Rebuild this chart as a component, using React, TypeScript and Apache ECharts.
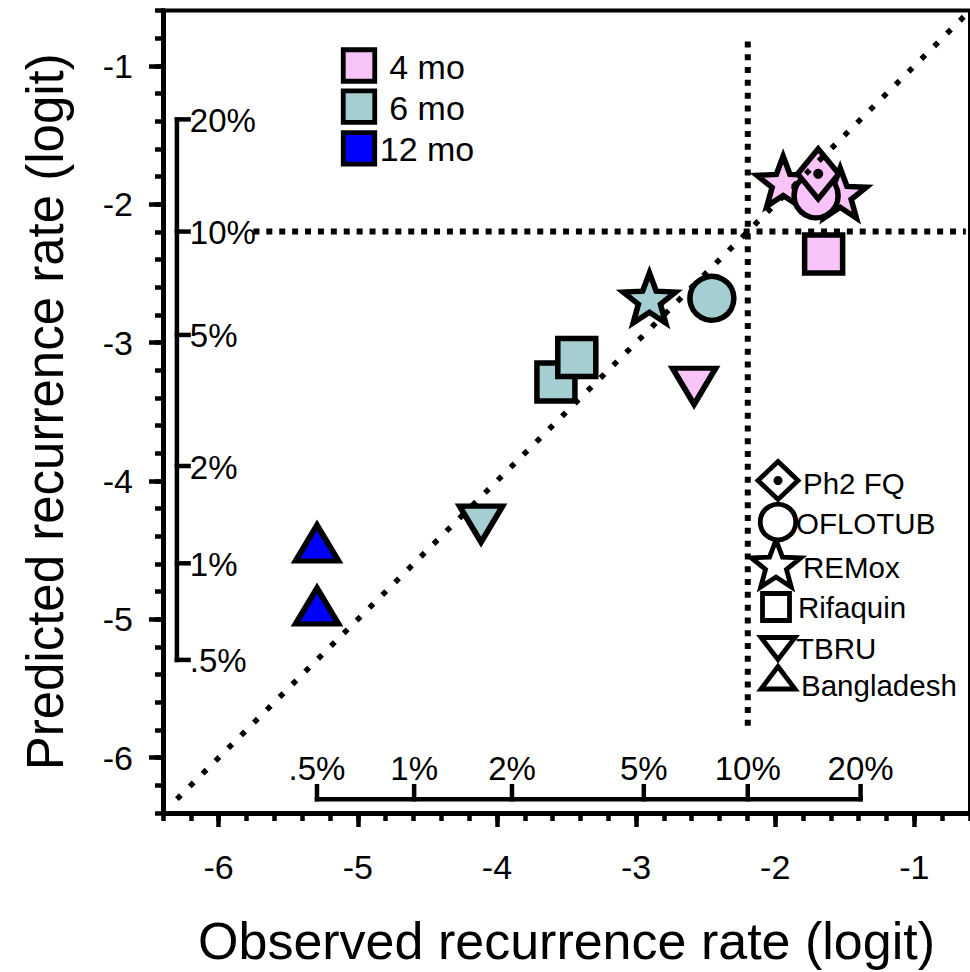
import React, { useEffect, useRef } from 'react';
import * as echarts from 'echarts';

const FONT = '"Liberation Sans", Arial, Helvetica, sans-serif';

const durations = ['4 mo', '6 mo', '12 mo'];
const durationColors = ['#f9c4f9', '#a4ced1', '#0000ff'];
const studies = ['Ph2 FQ', 'OFLOTUB', 'REMox', 'Rifaquin', 'TBRU', 'Bangladesh'];

// one entry per plotted point, in drawing order
const pointDuration = ['4 mo', '4 mo', '4 mo', '4 mo', '4 mo', '4 mo', '6 mo', '6 mo', '6 mo', '6 mo', '6 mo', '12 mo', '12 mo'];
const pointStudy = ['REMox', 'REMox', 'OFLOTUB', 'Ph2 FQ', 'Rifaquin', 'TBRU', 'REMox', 'OFLOTUB', 'Rifaquin', 'Rifaquin', 'TBRU', 'Bangladesh', 'Bangladesh'];
const observedLogit = [-1.943, -1.533, -1.706, -1.691, -1.652, -2.583, -2.904, -2.455, -3.576, -3.426, -4.114, -5.293, -5.293];
const predictedLogit = [-1.852, -1.938, -1.938, -1.780, -2.360, -3.316, -2.696, -2.680, -3.284, -3.107, -4.312, -4.449, -4.904];

const majorTicks = [-6, -5, -4, -3, -2, -1];
const percentTicks = [0.005, 0.01, 0.02, 0.05, 0.1, 0.2];
const percentLabels = ['.5%', '1%', '2%', '5%', '10%', '20%'];

const logit = (p: number) => Math.log(p / (1 - p));

function starPoints(cx: number, cy: number, R: number, r: number) {
  const pts: number[][] = [];
  for (let k = 0; k < 10; k++) {
    const a = -Math.PI / 2 + (k * Math.PI) / 5;
    const rad = k % 2 === 0 ? R : r;
    pts.push([cx + rad * Math.cos(a), cy + rad * Math.sin(a)]);
  }
  return pts;
}

const STAR_PATH =
  'path://' +
  starPoints(50, 50, 50, 21)
    .map((p, i) => (i === 0 ? 'M' : 'L') + p[0].toFixed(2) + ' ' + p[1].toFixed(2))
    .join(' ') +
  ' Z';

const symbolFor: Record<string, any> = {
  'Ph2 FQ': { symbol: 'diamond', symbolSize: [41, 50] },
  OFLOTUB: { symbol: 'circle', symbolSize: 44 },
  REMox: { symbol: STAR_PATH, symbolSize: [52.5, 50], symbolOffset: [0, -2.6] },
  Rifaquin: { symbol: 'rect', symbolSize: 38 },
  TBRU: { symbol: 'triangle', symbolSize: [43, 36], symbolRotate: 180 },
  Bangladesh: { symbol: 'triangle', symbolSize: [43, 36] },
};

export default function App() {
  const ref = useRef<HTMLDivElement>(null);

  useEffect(() => {
    if (!ref.current) return;
    const chart = echarts.init(ref.current, null, { renderer: 'svg' });

    const black = '#000';
    const tickStyle = { color: black, width: 4.5 };

    const scatterSeries = observedLogit.map((x, i) => {
      const s = symbolFor[pointStudy[i]];
      return {
        type: 'scatter',
        name: pointStudy[i] + ' ' + pointDuration[i],
        data: [[x, predictedLogit[i]]],
        ...s,
        itemStyle: {
          color: durationColors[durations.indexOf(pointDuration[i])],
          borderColor: black,
          borderWidth: 5.5,
          opacity: 1,
        },
        emphasis: { disabled: true },
        silent: true,
        z: 3 + i,
      };
    });

    const dotSeries = {
      type: 'scatter',
      data: observedLogit
        .map((x, i) => [x, predictedLogit[i], pointStudy[i] === 'Ph2 FQ' ? 1 : 0])
        .filter((d) => d[2] === 1)
        .map((d) => [d[0], d[1]]),
      symbol: 'circle',
      symbolSize: 10,
      itemStyle: { color: black, opacity: 1 },
      silent: true,
      z: 25,
    };

    const dotted = (data: number[][], dash: number[], width = 6) => ({
      type: 'line',
      data,
      symbol: 'none',
      lineStyle: { color: black, width, type: dash, cap: 'butt' },
      silent: true,
      z: 30,
    });

    const L10 = logit(0.1);
    const pctMin = logit(0.005);
    const pctMax = logit(0.2);

    const bottomPct = {
      type: 'custom',
      coordinateSystem: 'cartesian2d',
      data: percentTicks.map((p, i) => [logit(p), i]),
      silent: true,
      z: 32,
      renderItem: (params: any, api: any) => {
        const v = api.value(0);
        const i = api.value(1);
        const p0 = api.coord([v, -6.3]);
        const p1 = api.coord([v, -6.19]);
        return {
          type: 'group',
          children: [
            { type: 'line', shape: { x1: p0[0], y1: p0[1] + 2.25, x2: p1[0], y2: p1[1] }, style: { stroke: black, lineWidth: 4.5 } },
            {
              type: 'text',
              x: p1[0],
              y: p1[1] + 1,
              style: { text: percentLabels[i], fill: black, fontSize: 33, fontFamily: FONT, align: 'center', verticalAlign: 'bottom' },
            },
          ],
        };
      },
    };

    const leftPct = {
      type: 'custom',
      coordinateSystem: 'cartesian2d',
      data: percentTicks.map((p, i) => [logit(p), i]),
      silent: true,
      z: 32,
      renderItem: (params: any, api: any) => {
        const v = api.value(0);
        const i = api.value(1);
        const p0 = api.coord([-6.3, v]);
        const p1 = api.coord([-6.2, v]);
        return {
          type: 'group',
          children: [
            { type: 'line', shape: { x1: p0[0] - 2.25, y1: p0[1], x2: p1[0], y2: p1[1] }, style: { stroke: black, lineWidth: 4.5 } },
            {
              type: 'text',
              x: p1[0] - 1,
              y: p1[1] + 1,
              style: { text: percentLabels[i], fill: black, fontSize: 33, fontFamily: FONT, align: 'left', verticalAlign: 'middle' },
            },
          ],
        };
      },
    };

    const barLine = (data: number[][]) => ({
      type: 'line',
      data,
      symbol: 'none',
      lineStyle: { color: black, width: 4.5, cap: 'square' },
      silent: true,
      z: 31,
    });

    // legends (graphic)
    const graphics: any[] = [];
    const durY = [65.5, 106.7, 148.3];
    durations.forEach((d, i) => {
      graphics.push({
        type: 'rect',
        shape: { x: 359 - 15.75, y: durY[i] - 15.75, width: 31.5, height: 31.5 },
        style: { fill: durationColors[i], stroke: black, lineWidth: 4.8 },
        z: 50,
      });
      graphics.push({
        type: 'text',
        x: 427,
        y: durY[i] + 1,
        style: { text: d, fill: black, fontSize: 34, fontFamily: FONT, align: 'center', verticalAlign: 'middle' },
        z: 50,
      });
    });

    const legStyle = { fill: '#fff', stroke: black, lineWidth: 4.8 };
    const lx = 778;
    graphics.push({ type: 'polygon', shape: { points: starPoints(776, 566, 26, 11) }, style: legStyle, z: 50 });
    graphics.push({ type: 'polygon', shape: { points: [[lx, 461.5], [lx + 20, 480.5], [lx, 499.5], [lx - 20, 480.5]] }, style: legStyle, z: 51 });
    graphics.push({ type: 'circle', shape: { cx: lx, cy: 480.5, r: 4.5 }, style: { fill: black }, z: 52 });
    graphics.push({ type: 'circle', shape: { cx: lx, cy: 522, r: 17.75 }, style: legStyle, z: 51 });
    graphics.push({ type: 'rect', shape: { x: 776 - 13.5, y: 607 - 13.5, width: 27, height: 27 }, style: legStyle, z: 51 });
    graphics.push({ type: 'polygon', shape: { points: [[761, 637.5], [795, 637.5], [lx, 659.5]] }, style: legStyle, z: 51 });
    graphics.push({ type: 'polygon', shape: { points: [[lx, 666.5], [795, 689], [761, 689]] }, style: legStyle, z: 51 });

    const studyLabelX = [803, 796, 803, 798, 796, 801];
    const studyLabelY = [483, 523, 567, 607, 648, 685];
    studies.forEach((s, i) => {
      graphics.push({
        type: 'text',
        x: studyLabelX[i],
        y: studyLabelY[i],
        style: { text: s, fill: black, fontSize: 29.5, fontFamily: FONT, align: 'left', verticalAlign: 'middle' },
        z: 53,
      });
    });

    const option: any = {
      animation: false,
      backgroundColor: '#fff',
      grid: {
        left: 163,
        top: 10.6,
        width: 807,
        height: 803.8,
        show: true,
        borderColor: black,
        borderWidth: 4,
        backgroundColor: 'transparent',
      },
      xAxis: [
        {
          type: 'value',
          min: -6.4,
          max: -0.6,
          position: 'bottom',
          axisLine: { show: true, onZero: false, lineStyle: { color: black, width: 5 } },
          axisTick: { show: true, customValues: majorTicks, length: 14, lineStyle: tickStyle },
          axisLabel: { show: true, customValues: majorTicks, fontSize: 34, color: black, margin: 37, fontFamily: FONT },
          splitLine: { show: false },
          name: 'Observed recurrence rate (logit)',
          nameLocation: 'middle',
          nameGap: 102,
          nameTextStyle: { fontSize: 52, color: black, fontFamily: FONT },
        },
        {
          type: 'value',
          min: -6.4,
          max: -0.6,
          interval: 0.2,
          position: 'bottom',
          axisLine: { show: false, onZero: false },
          axisTick: { show: true, length: 8, lineStyle: tickStyle },
          axisLabel: { show: false },
          splitLine: { show: false },
        },
      ],
      yAxis: [
        {
          type: 'value',
          min: -6.4,
          max: -0.6,
          position: 'left',
          axisLine: { show: true, onZero: false, lineStyle: { color: black, width: 5 } },
          axisTick: { show: true, customValues: majorTicks, length: 14, lineStyle: tickStyle },
          axisLabel: { show: true, customValues: majorTicks, fontSize: 34, color: black, margin: 30, fontFamily: FONT },
          splitLine: { show: false },
          name: 'Predicted recurrence rate (logit)',
          nameLocation: 'middle',
          nameGap: 92,
          nameTextStyle: { fontSize: 51, color: black, fontFamily: FONT },
        },
        {
          type: 'value',
          min: -6.4,
          max: -0.6,
          interval: 0.2,
          position: 'left',
          axisLine: { show: false, onZero: false },
          axisTick: { show: true, length: 8, lineStyle: tickStyle },
          axisLabel: { show: false },
          splitLine: { show: false },
        },
      ],
      series: [
        ...scatterSeries,
        dotSeries,
        dotted([[-6.3, -6.3], [-0.6, -0.6]], [5.5, 12.6], 5.5),
        dotted([[L10, -5.77], [L10, -0.79]], [6, 6.8]),
        dotted([[-5.75, L10], [-0.63, L10]], [6, 6.9]),
        barLine([[pctMin, -6.3], [pctMax, -6.3]]),
        barLine([[-6.3, pctMin], [-6.3, pctMax]]),
        bottomPct,
        leftPct,
      ],
      graphic: graphics,
    };

    chart.setOption(option);
    return () => chart.dispose();
  }, []);

  return (
    <div
      ref={ref}
      style={{ position: 'fixed', left: 0, top: 0, width: 970, height: 972, background: '#fff' }}
    />
  );
}
